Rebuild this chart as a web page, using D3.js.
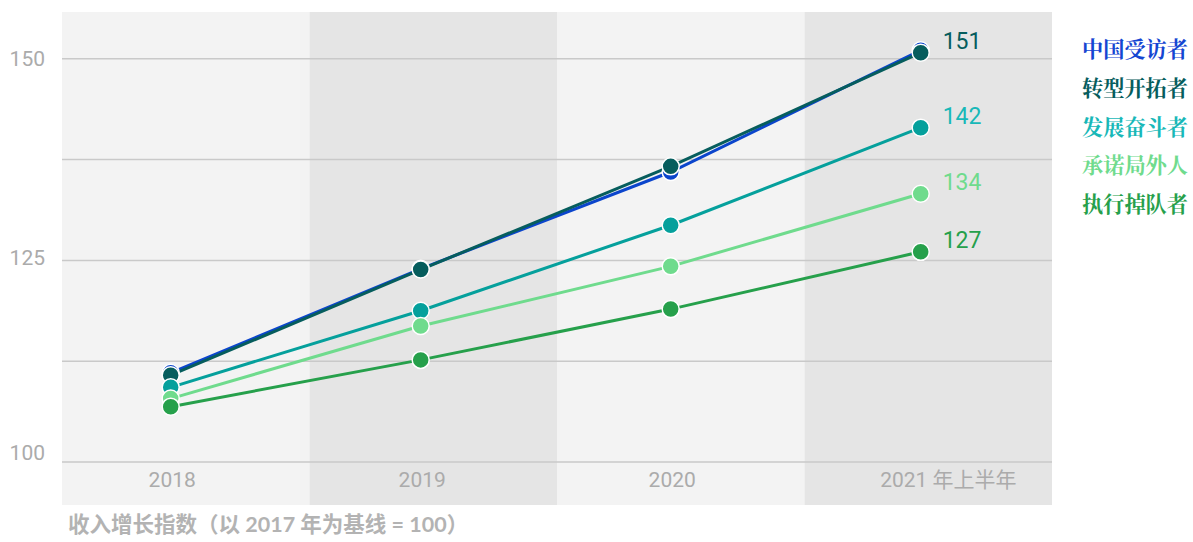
<!DOCTYPE html>
<html><head><meta charset="utf-8">
<script src="https://cdn.jsdelivr.net/npm/d3@7"></script>
<style>
html,body{margin:0;padding:0;background:#fff;}
svg{display:block;}
</style></head>
<body>
<svg id="chart" width="1193" height="542"></svg>
<script>
// ---- data ----
const categories = ["2018", "2019", "2020", "2021 年上半年"];
const seriesNames = ["中国受访者", "转型开拓者", "发展奋斗者", "承诺局外人", "执行掉队者"];
const chinaValues = [111.0, 123.9, 135.9, 151.0];
const pioneerValues = [110.7, 123.8, 136.6, 150.7];
const strugglerValues = [109.2, 118.7, 129.3, 141.4];
const outsiderValues = [107.8, 116.8, 124.2, 133.2];
const laggardValues = [106.8, 112.6, 118.9, 126.0];
const endLabels = [null, "151", "142", "134", "127"];
const yTickValues = [100, 112.5, 125, 137.5, 150];
const yTickLabels = [100, 125, 150];
const caption = "收入增长指数（以 2017 年为基线 = 100）";

const lineColors = ["#0b45cc", "#065d5d", "#05a09c", "#6fdb8d", "#26a04b"];
const textColors = ["#1446d2", "#065d5d", "#18b8b8", "#6fdb8d", "#26a04b"];

const seriesValues = [chinaValues, pioneerValues, strugglerValues, outsiderValues, laggardValues];
const series = seriesNames.map((n, i) => ({name: n, values: seriesValues[i], label: endLabels[i], line: lineColors[i], text: textColors[i]}));

// ---- layout ----
const svg = d3.select("#chart");
const plotL = 62, plotR = 1052, plotT = 12, plotB = 505;

const xBand = d3.scaleBand().domain(categories).range([plotL, plotR]).padding(0);
const x = d3.scalePoint().domain(categories).range([170.7, 920.7]);
const y = d3.scaleLinear().domain([100, 150]).range([461.5, 58.3]);

// background bands
svg.append("g").selectAll("rect").data(categories).join("rect")
  .attr("x", d => xBand(d)).attr("y", plotT)
  .attr("width", xBand.bandwidth()).attr("height", plotB - plotT)
  .attr("fill", (d, i) => i % 2 === 0 ? "#f3f3f3" : "#e5e5e5");

// gridlines
const yAxisGrid = d3.axisLeft(y).tickValues(yTickValues).tickSize(-(plotR - plotL)).tickFormat("");
const gGrid = svg.append("g").attr("transform", `translate(${plotL},0)`).call(yAxisGrid);
gGrid.select(".domain").remove();
gGrid.selectAll(".tick line").attr("stroke", "#c9c9c9").attr("stroke-width", 1.5);

// y tick labels
const yAxis = d3.axisLeft(y).tickValues(yTickLabels).tickSize(0).tickPadding(0).tickFormat(d3.format("d"));
const gY = svg.append("g").attr("transform", `translate(45,0)`).call(yAxis);
gY.select(".domain").remove();
gY.selectAll(".tick text")
  .attr("font-family", "Roboto, 'Noto Sans', sans-serif")
  .attr("font-size", 21).attr("fill", "#ababab")
  .attr("dy", d => d === 100 ? "-0.1em" : d === 125 ? "0.22em" : "0.35em");

// x labels
const xAxis = d3.axisBottom(x).tickSize(0).tickPadding(0);
const gX = svg.append("g").attr("transform", `translate(0,487)`).call(xAxis);
gX.select(".domain").remove();
gX.selectAll(".tick text")
  .attr("font-family", "Roboto, 'Noto Sans', 'Noto Sans CJK SC', sans-serif")
  .attr("font-size", 21).attr("fill", "#ababab")
  .attr("dy", 0)
  .attr("text-anchor", (d, i) => i === categories.length - 1 ? "start" : "middle")
  .attr("x", (d, i) => i === categories.length - 1 ? -41 : 1);

// lines
const line = d3.line().x((d, i) => x(categories[i])).y(d => y(d));
svg.append("g").selectAll("path").data(series).join("path")
  .attr("d", s => line(s.values))
  .attr("fill", "none").attr("stroke", s => s.line).attr("stroke-width", 3);

// points
series.forEach(s => {
  svg.append("g").selectAll("circle").data(s.values).join("circle")
    .attr("cx", (d, i) => x(categories[i])).attr("cy", d => y(d))
    .attr("r", 8.5).attr("fill", s.line)
    .attr("stroke", "#fff").attr("stroke-width", 1.5);
});

// end labels
svg.append("g").selectAll("text").data(series.filter(s => s.label)).join("text")
  .attr("x", x(categories[categories.length - 1]) + 22)
  .attr("y", s => y(s.values[s.values.length - 1]) - 3.5)
  .attr("font-family", "Roboto, 'Noto Sans', sans-serif")
  .attr("font-size", 23).attr("fill", s => s.text)
  .text(s => s.label);

// legend
svg.append("g").selectAll("text").data(series).join("text")
  .attr("x", 1188)
  .attr("y", (s, i) => 57 + i * 38.8)
  .attr("text-anchor", "end")
  .attr("font-family", "'Noto Serif CJK SC', 'Noto Sans CJK SC', serif")
  .attr("font-weight", 700)
  .attr("font-size", 21.2)
  .attr("fill", s => s.text)
  .text(s => s.name);

// caption
svg.append("text")
  .attr("x", 68).attr("y", 532)
  .attr("font-family", "Lato, 'Noto Sans CJK SC', sans-serif")
  .attr("font-weight", 700)
  .attr("font-size", 21.5)
  .attr("fill", "#b3b3b3")
  .text(caption);
</script>
</body></html>
